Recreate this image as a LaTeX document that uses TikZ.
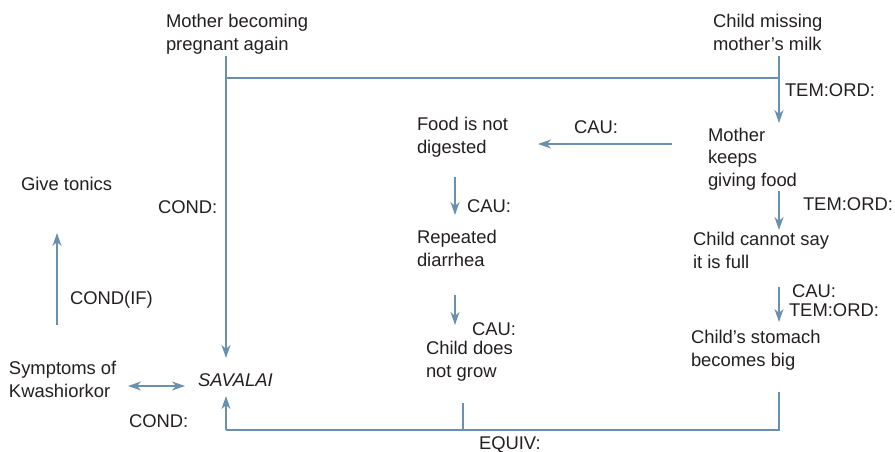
\documentclass[tikz,border=0pt]{standalone}
\usepackage{fontspec}
\setmainfont{Liberation Sans}
\usetikzlibrary{arrows.meta}
\definecolor{linkblue}{HTML}{6A90B0}
\definecolor{inkgray}{HTML}{231F20}
\begin{document}
\begin{tikzpicture}[x=1pt,y=-1pt,
  every node/.style={inner sep=0pt,outer sep=0pt,anchor=base west,text=inkgray,
    font=\fontsize{18.4}{22.5}\selectfont},
  concept/.style={align=left},
  rel/.style={},
  link/.style={draw=linkblue,line width=1.6pt},
  arr/.style={link,-{Stealth[length=13pt,width=9pt,inset=4pt]}},
  dblarr/.style={link,{Stealth[length=13pt,width=9pt,inset=4pt]}-{Stealth[length=13pt,width=9pt,inset=4pt]}}]
\useasboundingbox (0,0) rectangle (895,451);

% concepts (positioned by the baseline of their last line)
\node[concept] (preg)   at (166,50)  {Mother becoming\\pregnant again};
\node[concept] (milk)   at (713,50)  {Child missing\\mother’s milk};
\node[concept] (keeps)  at (708,186) {Mother\\keeps\\giving food};
\node[concept] (food)   at (417,153) {Food is not\\digested};
\node[concept] (diar)   at (417,266) {Repeated\\diarrhea};
\node[concept] (grow)   at (426,377) {Child does\\not grow};
\node[concept] (full)   at (693,268) {Child cannot say\\it is full};
\node[concept] (stom)   at (691,366) {Child’s stomach\\becomes big};
\node[concept] (tonics) at (21,190)  {Give tonics};
\node[concept] (kwash)  at (9,397)   {Symptoms of\\Kwashiorkor};
\node[concept] (sav)    at (198,386) {\itshape SAVALAI};

% relation labels
\node[rel] (r1)  at (785,96)  {TEM:ORD:};
\node[rel] (r2)  at (574,133) {CAU:};
\node[rel] (r3)  at (467,212) {CAU:};
\node[rel] (r4)  at (803,210) {TEM:ORD:};
\node[rel] (r5)  at (158,213) {COND:};
\node[rel] (r6)  at (70,304)  {COND(IF)};
\node[rel] (r7)  at (472,335) {CAU:};
\node[rel] (r8)  at (792,297) {CAU:};
\node[rel] (r9)  at (789,316) {TEM:ORD:};
\node[rel] (r10) at (129,427) {COND:};
\node[rel] (r11) at (479,449) {EQUIV:};

% junction points
\coordinate (lspine) at (226,78);
\coordinate (rspine) at (779,78);
\coordinate (lbase)  at (226,430);
\coordinate (rbase)  at (779,430);
\coordinate (mbase)  at (463,430);

% top branch joining the two starting events
\draw[link] (226,56) -- (lspine) -- (rspine);
\draw[arr]  (lspine) -- (226,358);
\draw[arr]  (779,56) -- (rspine) -- (779,123);

% causal chain
\draw[arr] (672,144) -- (538,144);
\draw[arr] (455,177) -- (455,215);
\draw[arr] (455,295) -- (455,325);
\draw[arr] (779,191) -- (779,230);
\draw[arr] (779,287) -- (779,322);

% left side
\draw[arr]    (57,325) -- (57,233);
\draw[dblarr] (128,386) -- (185,386);

% bottom equivalence bracket
\draw[link] (463,403) -- (mbase);
\draw[link] (779,392) -- (rbase) -- (lbase);
\draw[arr]  (lbase) -- (226,396);
\end{tikzpicture}
\end{document}
